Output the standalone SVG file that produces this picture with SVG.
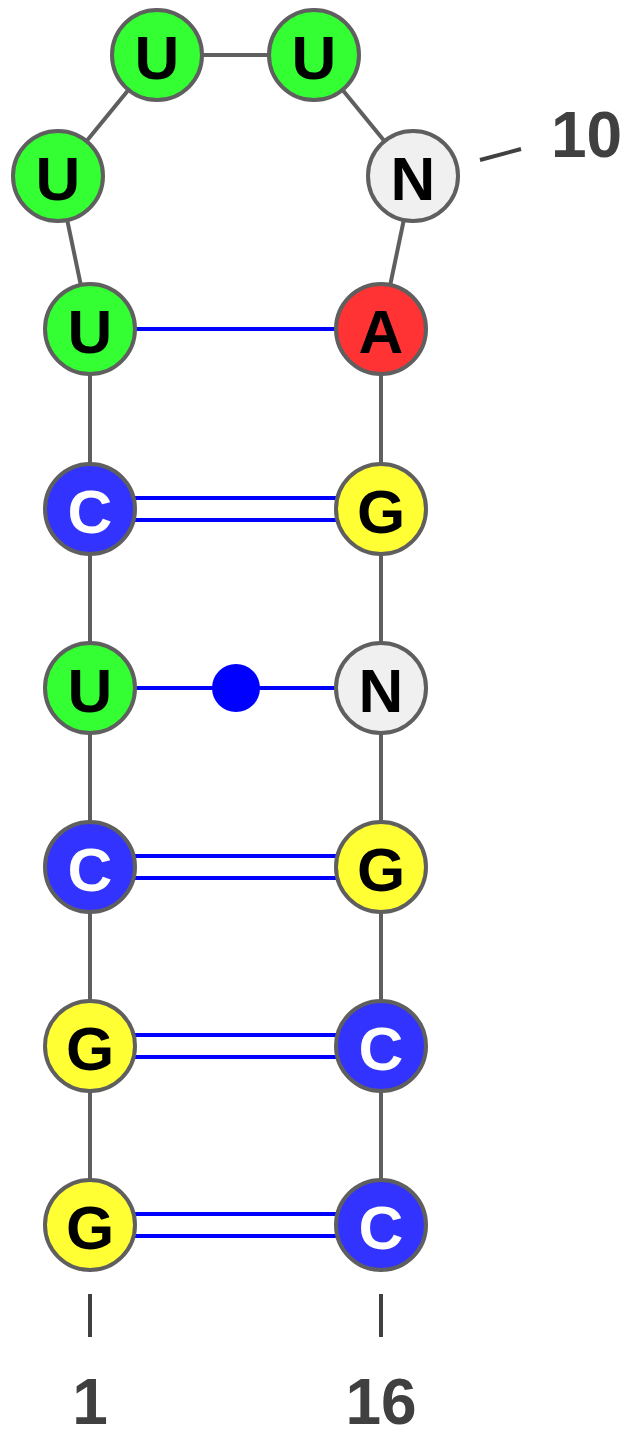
<svg xmlns="http://www.w3.org/2000/svg" width="626" height="1429" viewBox="0 0 626 1429">
  <style>
    .nt { stroke: #5f5f5f; stroke-width: 4; }
    .A { fill: #ff3333; }
    .U { fill: #33ff33; }
    .G { fill: #ffff33; }
    .C { fill: #3333ff; }
    .N { fill: #f0f0f0; }
    .lbl { font-family: "Liberation Sans", Arial, sans-serif; font-weight: bold; font-size: 62px; text-anchor: middle; dominant-baseline: central; fill: #000; }
    .lbl.w { fill: #fff; }
    .bb { stroke: #5f5f5f; stroke-width: 4; fill: none; }
    .bp { stroke: #0000ff; stroke-width: 4; fill: none; }
    .num { font-family: "Liberation Sans", Arial, sans-serif; font-weight: bold; font-size: 64px; fill: #404040; }
    .tick { stroke: #404040; stroke-width: 4; }
  </style>

  <!-- backbone and base pairs -->
  <g id="connectors">
    <path class="bb" d="M90 1225 V329 M381 1225 V329 M90 329 L58 176 L157 55 L314 55 L413 176 L381 329"/>
    <line class="bp" x1="90" y1="329" x2="381" y2="329"/>
    <line class="bp" x1="90" y1="498" x2="381" y2="498"/>
    <line class="bp" x1="90" y1="520" x2="381" y2="520"/>
    <line class="bp" x1="90" y1="688" x2="381" y2="688"/>
    <circle cx="236" cy="688" r="24" fill="#0000ff"/>
    <line class="bp" x1="90" y1="856" x2="381" y2="856"/>
    <line class="bp" x1="90" y1="878" x2="381" y2="878"/>
    <line class="bp" x1="90" y1="1035" x2="381" y2="1035"/>
    <line class="bp" x1="90" y1="1057" x2="381" y2="1057"/>
    <line class="bp" x1="90" y1="1214" x2="381" y2="1214"/>
    <line class="bp" x1="90" y1="1236" x2="381" y2="1236"/>
  </g>

  <!-- 5' strand -->
  <g id="n1"><circle class="nt G" cx="90" cy="1225" r="45"/><text class="lbl" x="90" y="1227">G</text></g>
  <g id="n2"><circle class="nt G" cx="90" cy="1046" r="45"/><text class="lbl" x="90" y="1048">G</text></g>
  <g id="n3"><circle class="nt C" cx="90" cy="867" r="45"/><text class="lbl w" x="90" y="869">C</text></g>
  <g id="n4"><circle class="nt U" cx="90" cy="688" r="45"/><text class="lbl" x="90" y="690">U</text></g>
  <g id="n5"><circle class="nt C" cx="90" cy="509" r="45"/><text class="lbl w" x="90" y="511">C</text></g>
  <g id="n6"><circle class="nt U" cx="90" cy="329" r="45"/><text class="lbl" x="90" y="331">U</text></g>
  <!-- loop -->
  <g id="n7"><circle class="nt U" cx="58" cy="176" r="45"/><text class="lbl" x="58" y="178">U</text></g>
  <g id="n8"><circle class="nt U" cx="157" cy="55" r="45"/><text class="lbl" x="157" y="57">U</text></g>
  <g id="n9"><circle class="nt U" cx="314" cy="55" r="45"/><text class="lbl" x="314" y="57">U</text></g>
  <g id="n10"><circle class="nt N" cx="413" cy="176" r="45"/><text class="lbl" x="413" y="178">N</text></g>
  <!-- 3' strand -->
  <g id="n11"><circle class="nt A" cx="381" cy="329" r="45"/><text class="lbl" x="381" y="331">A</text></g>
  <g id="n12"><circle class="nt G" cx="381" cy="509" r="45"/><text class="lbl" x="381" y="511">G</text></g>
  <g id="n13"><circle class="nt N" cx="381" cy="688" r="45"/><text class="lbl" x="381" y="690">N</text></g>
  <g id="n14"><circle class="nt G" cx="381" cy="867" r="45"/><text class="lbl" x="381" y="869">G</text></g>
  <g id="n15"><circle class="nt C" cx="381" cy="1046" r="45"/><text class="lbl w" x="381" y="1048">C</text></g>
  <g id="n16"><circle class="nt C" cx="381" cy="1225" r="45"/><text class="lbl w" x="381" y="1227">C</text></g>

  <!-- numbering -->
  <g id="numbers">
    <line class="tick" x1="480" y1="160" x2="521" y2="149"/>
    <text class="num" x="551" y="157">10</text>
    <line class="tick" x1="90" y1="1294" x2="90" y2="1337"/>
    <text class="num" x="90" y="1424" text-anchor="middle">1</text>
    <line class="tick" x1="381" y1="1294" x2="381" y2="1337"/>
    <text class="num" x="381" y="1424" text-anchor="middle">16</text>
  </g>
</svg>
